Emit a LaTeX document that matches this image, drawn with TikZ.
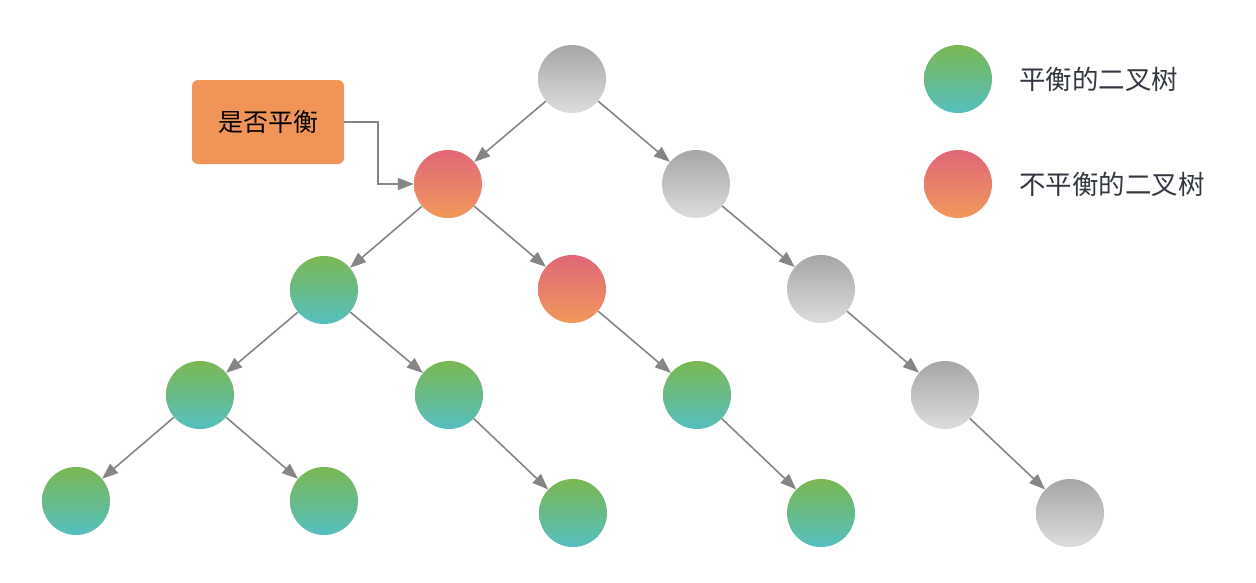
\documentclass[tikz,border=0pt]{standalone}
\usepackage{fontspec}
\newfontfamily\cjk{Noto Sans CJK SC}
\usetikzlibrary{arrows.meta}
\definecolor{grtop}{HTML}{7AB852}
\definecolor{grbot}{HTML}{55BFC0}
\definecolor{rdtop}{HTML}{E06778}
\definecolor{rdbot}{HTML}{F1985A}
\definecolor{gytop}{HTML}{A6A6A6}
\definecolor{gybot}{HTML}{DDDDDD}
\definecolor{edgec}{HTML}{858585}
\definecolor{boxc}{HTML}{F09458}
\definecolor{txtc}{HTML}{333840}
\begin{document}
\begin{tikzpicture}[x=1pt, y=-1pt,
  bal/.style={circle, minimum size=68pt, inner sep=0pt, top color=grtop, bottom color=grbot},
  unbal/.style={circle, minimum size=68pt, inner sep=0pt, top color=rdtop, bottom color=rdbot},
  gray/.style={circle, minimum size=68pt, inner sep=0pt, top color=gytop, bottom color=gybot},
  edge/.style={draw=edgec, line width=1.6pt, -{Triangle[length=16pt, width=12pt]}}]
  \useasboundingbox (0,0) rectangle (1256,582);
  \node[gray] (v0) at (572, 79) {};
  \node[unbal] (v1) at (448, 184) {};
  \node[gray] (v2) at (696, 184) {};
  \node[bal] (v3) at (324, 290) {};
  \node[unbal] (v4) at (572, 289) {};
  \node[gray] (v5) at (821, 289) {};
  \node[bal] (v6) at (200, 395) {};
  \node[bal] (v7) at (449, 395) {};
  \node[bal] (v8) at (697, 395) {};
  \node[gray] (v9) at (945, 395) {};
  \node[bal] (v10) at (76, 501) {};
  \node[bal] (v11) at (324, 501) {};
  \node[bal] (v12) at (573, 513) {};
  \node[bal] (v13) at (821, 513) {};
  \node[gray] (v14) at (1070, 513) {};
  \draw[edge] (v0) -- (v1);
  \draw[edge] (v0) -- (v2);
  \draw[edge] (v1) -- (v3);
  \draw[edge] (v1) -- (v4);
  \draw[edge] (v2) -- (v5);
  \draw[edge] (v3) -- (v6);
  \draw[edge] (v3) -- (v7);
  \draw[edge] (v4) -- (v8);
  \draw[edge] (v5) -- (v9);
  \draw[edge] (v6) -- (v10);
  \draw[edge] (v6) -- (v11);
  \draw[edge] (v7) -- (v12);
  \draw[edge] (v8) -- (v13);
  \draw[edge] (v9) -- (v14);
  % label box
  \node[fill=boxc, rounded corners=6pt, minimum width=152pt, minimum height=84pt, font=\cjk\fontsize{25}{30}\selectfont] (q) at (268, 122) {是否平衡};
  \draw[edge] (q.east) -- ++(34,0) |- (v1.west);
  % legend
  \node[bal] (l0) at (958, 79) {};
  \node[unbal] (l1) at (958, 184) {};
  \node[anchor=west, inner sep=0pt, text=txtc, font=\cjk\fontsize{26.5}{30}\selectfont] (t0) at (1019, 79) {平衡的二叉树};
  \node[anchor=west, inner sep=0pt, text=txtc, font=\cjk\fontsize{26.5}{30}\selectfont] (t1) at (1019, 184) {不平衡的二叉树};
\end{tikzpicture}
\end{document}
